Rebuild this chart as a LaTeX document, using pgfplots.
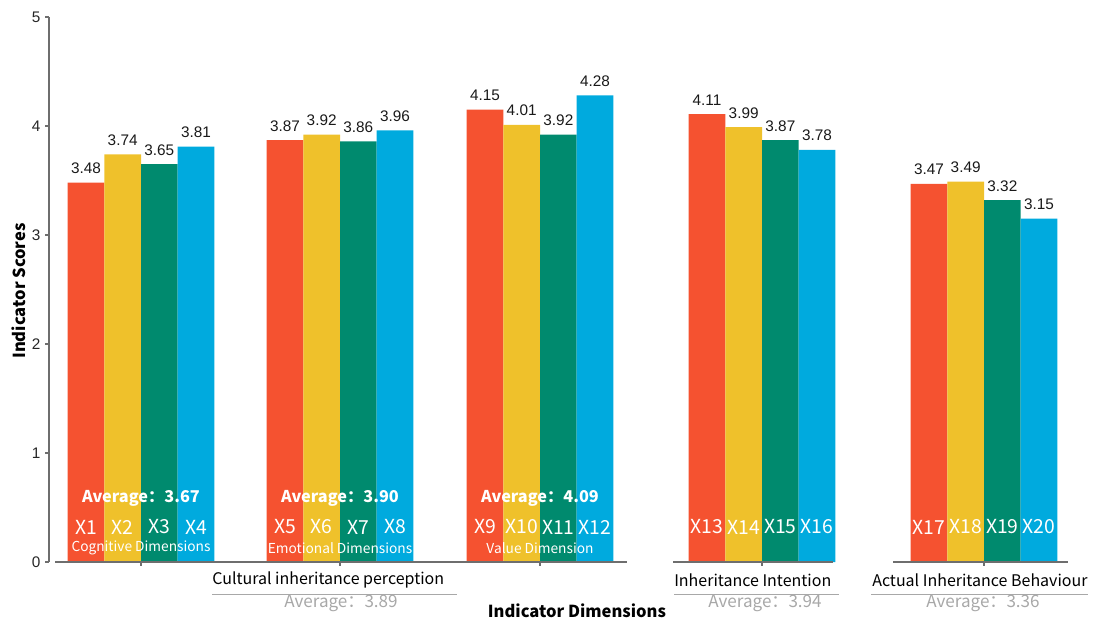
\documentclass[border=0pt]{standalone}
\usepackage{fontspec}
\setmainfont{Liberation Sans}
\newfontfamily\cjk{Noto Sans CJK SC}
\usepackage{pgfplots}
\pgfplotsset{compat=1.18}
\definecolor{cR}{HTML}{F55230}
\definecolor{cY}{HTML}{EFC12B}
\definecolor{cG}{HTML}{008A6E}
\definecolor{cB}{HTML}{00AADE}
\definecolor{axgray}{HTML}{6E6E6E}
\definecolor{lgray}{HTML}{A8A8A8}
\tikzset{
  xl/.style={text=white, font=\cjk\fontsize{14.5}{16}\selectfont},
  avgw/.style={text=white, font=\cjk\bfseries\fontsize{12.2}{14}\selectfont},
  dl/.style={text=white, font=\cjk\fontsize{10.3}{12}\selectfont},
  cat/.style={anchor=west, inner sep=0pt, font=\cjk\fontsize{12}{14}\selectfont},
  avgg/.style={text=lgray, font=\cjk\fontsize{12.8}{14}\selectfont},
  axseg/.style={axgray, line width=0.9pt},
}
\begin{document}
\begin{tikzpicture}
\useasboundingbox (-36.75pt,-45pt) rectangle (783.75pt,421.5pt);
\begin{axis}[
  at={(0,0)}, anchor=south west,
  scale only axis, width=767.25pt, height=408.75pt,
  xmin=-0.46, xmax=4.655, ymin=0, ymax=5,
  axis x line=none, axis y line*=left,
  y axis line style={draw=axgray, line width=0.9pt},
  ytick={0,1,2,3,4,5},
  ytick style={draw=axgray, line width=0.8pt},
  tick align=outside, major tick length=3pt,
  yticklabel style={font=\fontsize{11.5}{13}\selectfont, text=black!85},
  /pgf/number format/assume math mode=true,
  clip=false,
  nodes near coords={\pgfmathprintnumber[fixed,fixed zerofill,precision=2]{\pgfplotspointmeta}},
  nodes near coords style={font=\fontsize{11.5}{13}\selectfont, text=black!90, inner sep=0pt, anchor=south, yshift=6.5pt},
]
\addplot[ybar, bar width=0.1835, bar shift=0, fill=cR, draw=none]
  coordinates {(-0.27525,3.48) (0.71975,3.87) (1.71975,4.15) (2.82975,4.11) (3.93975,3.47)};
\addplot[ybar, bar width=0.1835, bar shift=0, fill=cY, draw=none]
  coordinates {(-0.09175,3.74) (0.90325,3.92) (1.90325,4.01) (3.01325,3.99) (4.12325,3.49)};
\addplot[ybar, bar width=0.1835, bar shift=0, fill=cG, draw=none]
  coordinates {(0.09175,3.65) (1.08675,3.86) (2.08675,3.92) (3.19675,3.87) (4.30675,3.32)};
\addplot[ybar, bar width=0.1835, bar shift=0, fill=cB, draw=none]
  coordinates {(0.27525,3.81) (1.27025,3.96) (2.27025,4.28) (3.38025,3.78) (4.49025,3.15)};

% broken x axis segments and ticks
\draw[axseg] (axis cs:-0.43,0) -- (axis cs:2.43,0);
\draw[axseg] (axis cs:2.66,0) -- (axis cs:3.46,0);
\draw[axseg] (axis cs:3.76,0) -- (axis cs:4.635,0);
\draw[axseg] (axis cs:0,0) -- ++(0pt,-3pt);
\draw[axseg] (axis cs:0.995,0) -- ++(0pt,-3pt);
\draw[axseg] (axis cs:1.995,0) -- ++(0pt,-3pt);
\draw[axseg] (axis cs:3.105,0) -- ++(0pt,-3pt);
\draw[axseg] (axis cs:4.215,0) -- ++(0pt,-3pt);

% inner labels
\node[avgw] at (axis cs:0,0.587) {Average：3.67};
\node[avgw] at (axis cs:0.995,0.587) {Average：3.90};
\node[avgw] at (axis cs:1.995,0.587) {Average：4.09};

\node[xl] at (axis cs:-0.27525,0.321) {X1};
\node[xl] at (axis cs:-0.09175,0.321) {X2};
\node[xl] at (axis cs:0.09175,0.321) {X3};
\node[xl] at (axis cs:0.27525,0.321) {X4};
\node[xl] at (axis cs:0.71975,0.321) {X5};
\node[xl] at (axis cs:0.90325,0.321) {X6};
\node[xl] at (axis cs:1.08675,0.321) {X7};
\node[xl] at (axis cs:1.27025,0.321) {X8};
\node[xl] at (axis cs:1.71975,0.321) {X9};
\node[xl] at (axis cs:1.90325,0.321) {X10};
\node[xl] at (axis cs:2.08675,0.321) {X11};
\node[xl] at (axis cs:2.27025,0.321) {X12};
\node[xl] at (axis cs:2.82975,0.321) {X13};
\node[xl] at (axis cs:3.01325,0.321) {X14};
\node[xl] at (axis cs:3.19675,0.321) {X15};
\node[xl] at (axis cs:3.38025,0.321) {X16};
\node[xl] at (axis cs:3.93975,0.321) {X17};
\node[xl] at (axis cs:4.12325,0.321) {X18};
\node[xl] at (axis cs:4.30675,0.321) {X19};
\node[xl] at (axis cs:4.49025,0.321) {X20};

\node[dl] at (axis cs:0,0.128) {Cognitive Dimensions};
\node[dl] at (axis cs:0.995,0.128) {Emotional Dimensions};
\node[dl] at (axis cs:1.995,0.128) {Value Dimension};

% category labels below the axis
\draw[lgray, line width=0.8pt] (axis cs:0.355,-0.294) -- (axis cs:1.58,-0.294);
\draw[lgray, line width=0.8pt] (axis cs:2.665,-0.294) -- (axis cs:3.49,-0.294);
\draw[lgray, line width=0.8pt] (axis cs:3.65,-0.294) -- (axis cs:4.735,-0.294);
\node[cat] at (axis cs:0.355,-0.165) {Cultural inheritance perception};
\node[cat] at (axis cs:2.665,-0.165) {Inheritance Intention};
\node[cat] at (axis cs:3.655,-0.165) {Actual Inheritance Behaviour};
\node[avgg] at (axis cs:1.0,-0.376) {Average：3.89};
\node[avgg] at (axis cs:3.12,-0.376) {Average：3.94};
\node[avgg] at (axis cs:4.21,-0.376) {Average：3.36};

% axis titles
\node[font=\cjk\bfseries\fontsize{12.4}{14}\selectfont] at (axis cs:2.18,-0.45) {Indicator Dimensions};
\node[rotate=90, font=\cjk\bfseries\fontsize{12.4}{14}\selectfont] at (axis cs:-0.61,2.486) {Indicator Scores};
\end{axis}
\end{tikzpicture}
\end{document}
